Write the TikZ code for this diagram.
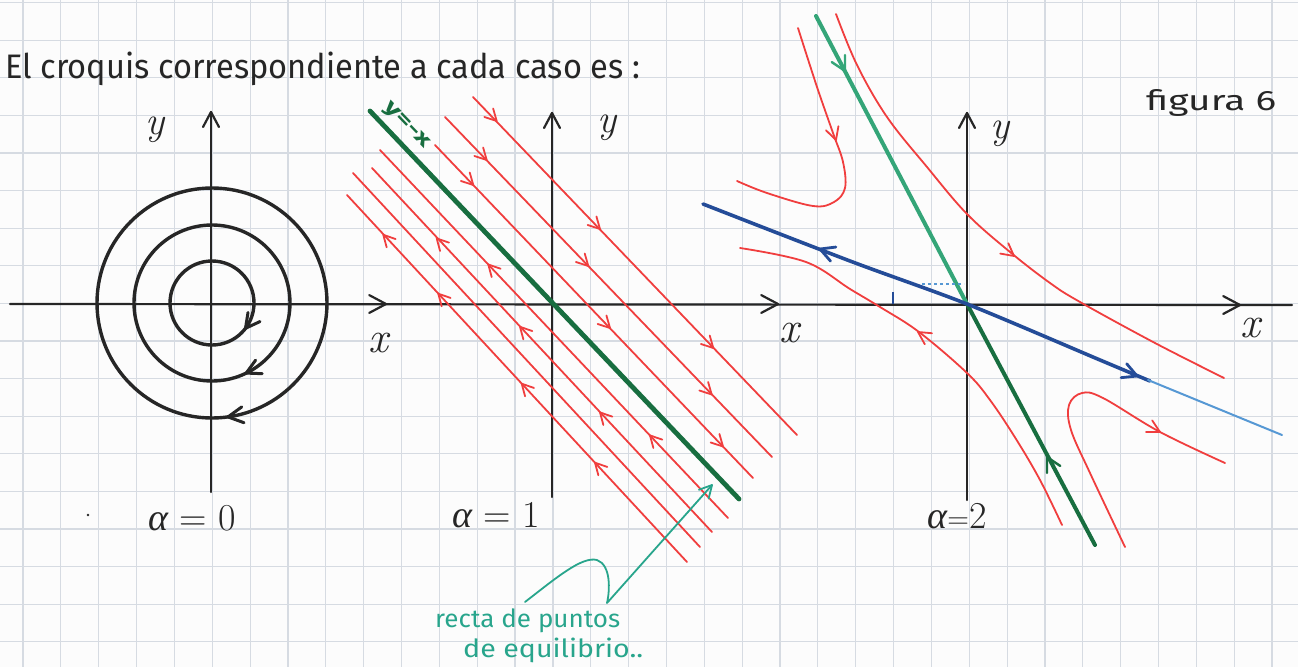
\documentclass[tikz,border=0pt]{standalone}
\usepackage{fontspec}
\usepackage{graphicx}
\usetikzlibrary{calc}
\newfontfamily\hand{Fira Sans}
\newfontfamily\grk{Liberation Serif}
\definecolor{paper}{RGB}{252,252,252}
\definecolor{gridc}{RGB}{214,219,226}
\definecolor{ink}{RGB}{38,38,38}
\definecolor{redc}{RGB}{240,62,62}
\definecolor{greenD}{RGB}{24,110,64}
\definecolor{greenT}{RGB}{52,165,120}
\definecolor{blueD}{RGB}{36,76,152}
\definecolor{blueL}{RGB}{86,152,212}
\definecolor{tealc}{RGB}{40,165,140}
\tikzset{
  gridline/.style={draw=gridc, line width=1.2},
  axisline/.style={draw=ink, line width=2.2, line cap=round},
  orbit/.style={draw=ink, line width=3.4},
  redline/.style={draw=redc, line width=1.8, line cap=round},
  redarr/.style={draw=redc, line width=1.8},
  inkarr/.style={draw=ink, line width=2.2},
  orbarr/.style={draw=ink, line width=3},
  mathlbl/.style={text=ink, inner sep=0pt, font=\itshape},
  handtxt/.style={text=ink, inner sep=0pt, font=\hand},
}
\newcommand\chevmark[4][]{%
  \draw[#1,line cap=round,line join=round] ($(#2)+({#3+152}:#4)$) -- (#2) -- ($(#2)+({#3-152}:#4)$);}
\newcommand\alf{{\grk\itshape α}}
\begin{document}
\begin{tikzpicture}[x=1pt,y=-1pt]
\useasboundingbox (0,0) rectangle (1298,667);
\fill[paper] (0,0) rectangle (1298,667);
% grid paper
\foreach \k in {0,...,34} \draw[gridline] ({23+37.85*\k},0) -- ({23+37.85*\k},667);
\foreach \k in {0,...,17} \draw[gridline] (0,{2.5+37.6*\k}) -- (1298,{2.5+37.6*\k});

% title
\node[handtxt, anchor=base west] (title) at (5,78)
  {\fontsize{34}{40}\selectfont\resizebox{635pt}{\height}{El croquis correspondiente a cada caso es :}};
\node[handtxt, anchor=base west] (fig) at (1146,110)
  {\fontsize{28}{32}\selectfont\resizebox{130pt}{\height}{figura 6}};

% ---------- axes ----------
\coordinate (xa0) at (10,304);
\coordinate (xa1) at (1292,305);
\draw[axisline] (xa0) -- (xa1);
\chevmark[inkarr]{386,304}{0}{19}
\chevmark[inkarr]{778,304}{0}{19}
\chevmark[inkarr]{1240,305}{0}{19}
\coordinate (ya0) at (211,492); \coordinate (ya1) at (211,112);
\coordinate (yb0) at (552,497); \coordinate (yb1) at (552,113);
\coordinate (yc0) at (967,500); \coordinate (yc1) at (967,113);
\draw[axisline] (ya0) -- (ya1);
\draw[axisline] (yb0) -- (yb1);
\draw[axisline] (yc0) -- (yc1);
\chevmark[inkarr]{211,112}{270}{17}
\chevmark[inkarr]{552,113}{270}{17}
\chevmark[inkarr]{967,113}{270}{17}

% ---------- alpha = 0 : centre ----------
\coordinate (o0) at (212,303);
\draw[orbit] (o0) circle (42);
\draw[orbit] (o0) circle (78);
\draw[orbit] (o0) circle (115);
\chevmark[orbarr]{245.5,328.3}{127}{16}
\chevmark[orbarr]{246.2,373.1}{154}{16}
\chevmark[orbarr]{228,416.9}{172}{17}
\node[mathlbl] (ly0) at (155,130) {\fontsize{40}{44}\selectfont y};
\node[mathlbl] (lx0) at (378,343) {\fontsize{44}{48}\selectfont x};
\node[mathlbl, anchor=base, font=\upshape] (la0) at (192,530) {\fontsize{38}{42}\selectfont\alf\ = 0};
\fill[ink] (88,515) circle (1.3);

% ---------- alpha = 1 : line of equilibria ----------
\draw[redline] (473,97) -- (797,435);
\draw[redline] (445,117) -- (772,457);
\draw[redline] (435,145) -- (753,478);
\draw[redline] (380,150) -- (728,518);
\draw[redline] (372,168) -- (712,532);
\draw[redline] (353,173) -- (700,547);
\draw[redline] (347,195) -- (687,562);
\foreach \p in {{496.7,121},{600,229},{713.3,348},{486.7,160},{588.3,266},{711.7,394.5},{473.3,185},{610,328},{723,446.5}}
  {\chevmark[redarr]{\p}{46}{13}}
\foreach \p in {{383.3,234.8},{438.3,293.7},{521.7,383.7},{595,462.7},{436.7,238.4},{520,326.8},{600,412.4},{488.3,264.5},{650,435.4}}
  {\chevmark[redarr]{\p}{227}{13}}
\coordinate (g0) at (370,111);
\coordinate (g1) at (739,499);
\draw[greenD, line width=4.8, line cap=round] (g0) -- (g1);
\node[text=greenD, inner sep=0pt, font=\hand\bfseries\fontsize{20}{22}\selectfont, rotate=-46] (lyx) at (406,126) {\resizebox{58pt}{\height}{y=-x}};
\node[mathlbl] (ly1) at (607,128) {\fontsize{40}{44}\selectfont y};
\node[mathlbl] (lx1) at (789,333) {\fontsize{44}{48}\selectfont x};
\node[mathlbl, anchor=base, font=\upshape] (la1) at (496,527) {\fontsize{38}{42}\selectfont\alf\ = 1};

% annotation
\node[text=tealc, inner sep=0pt, anchor=base west] (ann1) at (435,627)
  {\hand\fontsize{25}{28}\selectfont\resizebox{185pt}{\height}{recta de puntos}};
\node[text=tealc, inner sep=0pt, anchor=base west] (ann2) at (463,657)
  {\hand\fontsize{25}{28}\selectfont\resizebox{180pt}{\height}{de equilibrio..}};
\coordinate (tip) at (712,485);
\draw[tealc, line width=1.8, line cap=round, line join=round]
  (525,602) .. controls (556,578) and (582,556) .. (597,560)
  .. controls (611,565) and (610,590) .. (607,603) -- (tip);
\chevmark[draw=tealc, line width=1.8]{712,485}{-48}{14}

% ---------- alpha = 2 : saddle ----------
\draw[redline] plot[smooth, tension=0.6] coordinates {(836,14) (857,65) (887,117) (927,167) (967,214) (1010,252) (1050,283) (1080,302) (1155,343) (1224,378)};
\draw[redline] plot[smooth, tension=0.6] coordinates {(740,248) (806,262) (850,289) (880,307) (919,332) (967,373) (990,400) (1016,439) (1040,480) (1062,525)};
\draw[redline] plot[smooth, tension=0.6] coordinates {(798,28) (817,87) (833,133) (843,162) (845,188) (834,202) (813,206) (767,193) (737,181)};
\draw[redline] plot[smooth, tension=0.6] coordinates {(1225,463) (1160,432) (1103,398) (1082,393) (1069,405) (1071,430) (1090,473) (1125,547)};
\chevmark[redarr]{1014,256}{38}{14}
\chevmark[redarr]{918,332}{213}{14}
\chevmark[redarr]{836,140}{72}{14}
\chevmark[redarr]{1160,432}{28}{14}

\coordinate (o2) at (967,304);
\draw[greenT, line width=4, line cap=round] (816,16) -- (o2);
\draw[greenD, line width=4, line cap=round] (o2) -- (1095,545);
\chevmark[draw=greenT, line width=2.4]{845,71}{62}{16}
\chevmark[draw=greenD, line width=2.4]{1047,457}{242}{16}

\draw[blueD, line width=3.6, line cap=round] plot[smooth, tension=0.5] coordinates {(703,204) (850,261) (967,304) (1100,360) (1150,381)};
\draw[blueL, line width=2, line cap=round] (1148,380) -- (1282,435);
\chevmark[draw=blueD, line width=2.8]{820,249}{201}{16}
\chevmark[draw=blueD, line width=2.8]{1137,376}{22}{16}
\draw[blueL, line width=1.2, dashed] (922,284) -- (964,284);
\draw[blueD, line width=1.5] (893,292) -- (893,304);

\node[mathlbl] (ly2) at (1000,134) {\fontsize{40}{44}\selectfont y};
\node[mathlbl] (lx2) at (1250,328) {\fontsize{44}{48}\selectfont x};
\node[mathlbl, anchor=base, font=\upshape] (la2) at (957,528) {\fontsize{38}{42}\selectfont\alf{\fontsize{30}{30}\selectfont =}2};
\end{tikzpicture}
\end{document}
